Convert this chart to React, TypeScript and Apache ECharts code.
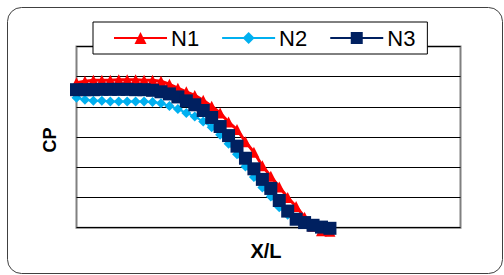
import React, { useEffect, useRef } from "react";
import * as echarts from "echarts";

const xPos = [0, 2.2, 4.4, 6.6, 8.8, 11, 13.2, 15.4, 17.6, 19.8, 22, 24.2, 26.4, 28.6, 30.8, 33, 35.2, 37.4, 39.6, 41.8, 44, 46.2, 48.4, 50.6, 52.8, 55, 57.2, 59.4, 61.6, 63.8, 66];
const n1 = [4.8, 4.85, 4.88, 4.88, 4.88, 4.9, 4.9, 4.9, 4.88, 4.88, 4.85, 4.75, 4.62, 4.5, 4.38, 4.22, 4.02, 3.8, 3.5, 3.25, 2.85, 2.5, 2.05, 1.7, 1.35, 1.0, 0.7, 0.35, 0.05, -0.1, -0.12];
const n2 = [4.3, 4.24, 4.2, 4.2, 4.18, 4.18, 4.18, 4.18, 4.18, 4.16, 4.12, 4.03, 3.93, 3.8, 3.68, 3.52, 3.33, 3.08, 2.78, 2.43, 2.03, 1.68, 1.33, 1.03, 0.68, 0.43, 0.26, 0.14, 0.06, 0.02, 0.0];
const n3 = [4.57, 4.57, 4.57, 4.58, 4.58, 4.58, 4.58, 4.57, 4.57, 4.55, 4.5, 4.43, 4.33, 4.2, 4.07, 3.88, 3.65, 3.35, 3.05, 2.7, 2.3, 1.95, 1.6, 1.3, 0.9, 0.55, 0.28, 0.17, 0.08, 0.02, -0.02];
const seriesNames = ["N1", "N2", "N3"];
const xTitle = "X/L";
const yTitle = "CP";

const pair = (ys: number[]) => ys.map((y, i) => [xPos[i], y]);

export default function App() {
  const ref = useRef<HTMLDivElement>(null);
  useEffect(() => {
    document.body.style.margin = "0";
    const chart = echarts.init(ref.current!, null, { renderer: "svg" });
    const font = "'Liberation Sans', Arial, sans-serif";
    chart.setOption({
      animation: false,
      backgroundColor: "#ffffff",
      grid: { left: 76.5, top: 46.5, width: 384, height: 181.2, show: true, borderColor: "#808080", borderWidth: 2, backgroundColor: "transparent" },
      xAxis: {
        type: "value", min: 0, max: 100,
        axisLine: { show: false }, axisTick: { show: false }, axisLabel: { show: false }, splitLine: { show: false },
      },
      yAxis: {
        type: "value", min: 0, max: 6, interval: 1,
        axisLine: { show: false }, axisTick: { show: false }, axisLabel: { show: false },
        splitLine: { show: true, lineStyle: { color: "#000000", width: 1 } },
      },
      legend: {
        left: 93, top: 22,
        padding: [5, 12, 5, 20],
        itemGap: 22, itemWidth: 53, itemHeight: 15,
        borderColor: "#000000", borderWidth: 1, backgroundColor: "#ffffff",
        textStyle: { fontFamily: font, fontSize: 22, color: "#000000", padding: [0, 0, 0, -1] },
        data: seriesNames,
      },
      graphic: [
        { type: "rect", shape: { x: 7.5, y: 7.5, width: 495, height: 266, r: 14 }, style: { fill: "none", stroke: "#404040", lineWidth: 1 }, z: 10 },
        { type: "text", x: 50, y: 140, rotation: Math.PI / 2, style: { text: yTitle, font: `bold 18px ${font}`, fill: "#000", align: "center", verticalAlign: "middle" } },
        { type: "text", x: 266, y: 251, style: { text: xTitle, font: `bold 20px ${font}`, fill: "#000", align: "center", verticalAlign: "middle" } },
      ],
      series: [
        { name: seriesNames[0], type: "line", data: pair(n1), clip: false, symbol: "triangle", symbolSize: 11, color: "#ff0000", lineStyle: { width: 3, color: "#ff0000" }, itemStyle: { color: "#ff0000" } },
        { name: seriesNames[1], type: "line", data: pair(n2), clip: false, symbol: "diamond", symbolSize: 10, color: "#00b0f0", lineStyle: { width: 2, color: "#00b0f0" }, itemStyle: { color: "#00b0f0" } },
        { name: seriesNames[2], type: "line", data: pair(n3), clip: false, symbol: "rect", symbolSize: 13, color: "#002060", lineStyle: { width: 2, color: "#002060" }, itemStyle: { color: "#002060" } },
      ],
    });
    return () => chart.dispose();
  }, []);
  return <div ref={ref} style={{ width: 504, height: 275 }} />;
}
